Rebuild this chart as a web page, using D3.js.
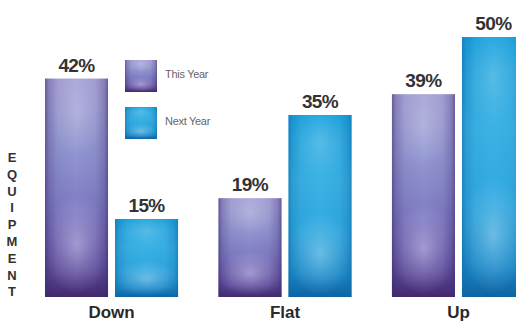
<!DOCTYPE html>
<html>
<head>
<meta charset="utf-8">
<script src="https://cdn.jsdelivr.net/npm/d3@7"></script>
<style>
  html, body { margin: 0; padding: 0; background: #fff; }
  svg { display: block; }
</style>
</head>
<body>
<div id="chart"></div>
<script>
// Equipment outlook: share of respondents expecting Down / Flat / Up
const categories = ["Down", "Flat", "Up"];
const seriesNames = ["This Year", "Next Year"];
const thisYear = [42, 19, 39];
const nextYear = [15, 35, 50];
const axisTitle = "EQUIPMENT";

const W = 516, H = 323;
const svg = d3.select("#chart").append("svg")
  .attr("width", W).attr("height", H);

const defs = svg.append("defs");

// Colour ramps for each series: vertical body, soft glow, darker edges
const palettes = {
  "This Year": {
    stops: [[0, "#a9a5d9"], [0.3, "#9499d2"], [0.6, "#7f7cc4"], [0.88, "#5e4a9a"], [1, "#42296e"]],
    glow: "#cfc9ee",
    edge: "#3b2a70"
  },
  "Next Year": {
    stops: [[0, "#1ea5df"], [0.35, "#3bb2e5"], [0.65, "#2fa8e0"], [0.88, "#1b88c8"], [1, "#0f62a2"]],
    glow: "#a2d9f2",
    edge: "#0e6aa8"
  }
};

seriesNames.forEach((s, i) => {
  const p = palettes[s];
  const lg = defs.append("linearGradient")
    .attr("id", "body" + i).attr("x1", 0).attr("y1", 0).attr("x2", 0).attr("y2", 1);
  p.stops.forEach(([o, c]) => lg.append("stop").attr("offset", o).attr("stop-color", c));

  const glow = defs.append("radialGradient")
    .attr("id", "glow" + i).attr("cx", 0.5).attr("cy", 0.76).attr("r", 0.5)
    .attr("gradientTransform", "translate(0.5 0.76) scale(1.1 0.45) translate(-0.5 -0.76)");
  glow.append("stop").attr("offset", 0).attr("stop-color", p.glow).attr("stop-opacity", 0.55);
  glow.append("stop").attr("offset", 0.5).attr("stop-color", p.glow).attr("stop-opacity", 0.25);
  glow.append("stop").attr("offset", 1).attr("stop-color", p.glow).attr("stop-opacity", 0);

  const glowTop = defs.append("radialGradient")
    .attr("id", "glowTop" + i).attr("cx", 0.5).attr("cy", 0.15).attr("r", 0.5)
    .attr("gradientTransform", "translate(0.5 0.15) scale(1 0.4) translate(-0.5 -0.15)");
  glowTop.append("stop").attr("offset", 0).attr("stop-color", "#ffffff").attr("stop-opacity", 0.2);
  glowTop.append("stop").attr("offset", 1).attr("stop-color", "#ffffff").attr("stop-opacity", 0);

  const edge = defs.append("linearGradient")
    .attr("id", "edge" + i).attr("x1", 0).attr("y1", 0).attr("x2", 1).attr("y2", 0);
  [[0, 0.6], [0.06, 0.3], [0.2, 0.08], [0.5, 0], [0.8, 0.08], [0.94, 0.3], [1, 0.6]].forEach(([o, a]) =>
    edge.append("stop").attr("offset", o).attr("stop-color", p.edge).attr("stop-opacity", a));
});

// Scales
const x0 = d3.scaleBand().domain(categories).range([45, 525]).paddingInner(0.233);
const x1 = d3.scaleBand().domain(seriesNames).range([0, x0.bandwidth()]).paddingInner(0.1);
const y = d3.scaleLinear().domain([0, 50]).range([297, 37]);

const rows = categories.map((c, i) => ({
  category: c,
  values: [
    { series: seriesNames[0], idx: 0, value: thisYear[i] },
    { series: seriesNames[1], idx: 1, value: nextYear[i] }
  ]
}));

const groups = svg.append("g").selectAll("g")
  .data(rows).join("g")
  .attr("transform", d => `translate(${x0(d.category)},0)`);

const bars = groups.selectAll("g.bar")
  .data(d => d.values).join("g").attr("class", "bar");

["body", "glowTop", "glow", "edge"].forEach(layer => {
  bars.append("rect")
    .attr("x", d => x1(d.series))
    .attr("y", d => y(d.value))
    .attr("width", x1.bandwidth())
    .attr("height", d => y(0) - y(d.value))
    .attr("fill", d => `url(#${layer}${d.idx})`);
});

// Value labels
bars.append("text")
  .attr("x", d => x1(d.series) + x1.bandwidth() / 2)
  .attr("y", d => y(d.value) - 7)
  .attr("text-anchor", "middle")
  .attr("font-family", "'Liberation Sans', Arial, sans-serif")
  .attr("font-weight", "bold")
  .attr("font-size", 19)
  .attr("letter-spacing", -0.6)
  .attr("fill", "#333")
  .text(d => d.value + "%");

// Category axis labels
const xAxis = svg.append("g")
  .attr("transform", `translate(0,${y(0)})`)
  .call(d3.axisBottom(x0).tickSize(0).tickPadding(9));
xAxis.select(".domain").remove();
xAxis.selectAll("text")
  .attr("font-family", "'Liberation Sans', Arial, sans-serif")
  .attr("font-weight", "bold")
  .attr("font-size", 17)
  .attr("fill", "#2a2a2a");

// Stacked vertical axis title
const title = svg.append("text")
  .attr("font-family", "'Liberation Sans', Arial, sans-serif")
  .attr("font-weight", "bold")
  .attr("font-size", 13)
  .attr("fill", "#333")
  .attr("text-anchor", "middle");
title.selectAll("tspan")
  .data(axisTitle.split(""))
  .join("tspan")
  .attr("x", 12)
  .attr("y", (d, i) => 162 + i * 16.8)
  .text(d => d);

// Legend
const legend = svg.append("g").attr("transform", "translate(125,60)");
const items = legend.selectAll("g").data(seriesNames).join("g")
  .attr("transform", (d, i) => `translate(0,${i * 47})`);
["body", "glowTop", "glow", "edge"].forEach(layer => {
  items.append("rect")
    .attr("width", 32).attr("height", 32)
    .attr("fill", (d, i) => `url(#${layer}${i})`);
});
items.append("text")
  .attr("x", 40).attr("y", 14)
  .attr("dy", "0.35em")
  .attr("font-family", "'Liberation Sans', Arial, sans-serif")
  .attr("font-size", 11)
  .attr("letter-spacing", -0.3)
  .attr("fill", "#666")
  .text(d => d);
</script>
</body>
</html>
